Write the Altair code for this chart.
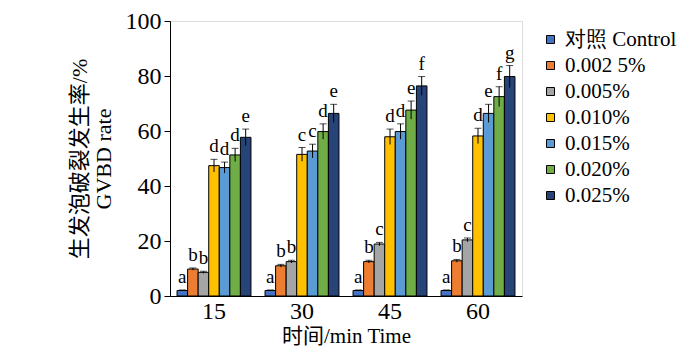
import altair as alt
import pandas as pd

times = ["15", "30", "45", "60"]
series = ["对照 Control", "0.002 5%", "0.005%", "0.010%", "0.015%", "0.020%", "0.025%"]
colors = ["#4472C4", "#ED7D31", "#A5A5A5", "#FFC000", "#5B9BD5", "#70AD47", "#264478"]

val_control = [2.0, 2.0, 2.0, 2.0]
val_0025 = [9.8, 11.0, 12.5, 12.8]
val_005 = [8.6, 12.5, 18.9, 20.4]
val_010 = [47.4, 51.5, 57.9, 58.2]
val_015 = [46.7, 52.7, 59.8, 66.4]
val_020 = [51.3, 59.8, 67.6, 72.5]
val_025 = [57.7, 66.4, 76.4, 79.8]

err_control = [0.2, 0.2, 0.2, 0.2]
err_0025 = [0.4, 0.5, 0.5, 0.5]
err_005 = [0.4, 0.5, 0.6, 0.7]
err_010 = [2.3, 2.5, 2.8, 2.8]
err_015 = [2.0, 2.5, 2.8, 3.3]
err_020 = [2.4, 2.8, 3.3, 3.6]
err_025 = [3.0, 3.3, 3.4, 4.0]

let_control = ["a", "a", "a", "a"]
let_0025 = ["b", "b", "b", "b"]
let_005 = ["b", "b", "c", "c"]
let_010 = ["d", "c", "d", "d"]
let_015 = ["d", "c", "d", "e"]
let_020 = ["d", "d", "e", "f"]
let_025 = ["e", "e", "f", "g"]

vals = [val_control, val_0025, val_005, val_010, val_015, val_020, val_025]
errs = [err_control, err_0025, err_005, err_010, err_015, err_020, err_025]
lets = [let_control, let_0025, let_005, let_010, let_015, let_020, let_025]

rows = []
for s, v, e, l in zip(series, vals, errs, lets):
    for i, t in enumerate(times):
        rows.append({"time": t, "series": s, "value": v[i],
                     "lo": v[i] - e[i], "hi": v[i] + e[i], "letter": l[i]})
df = pd.DataFrame(rows)

SERIF = "Liberation Serif, Noto Sans CJK SC"

x_enc = alt.X("time:N", sort=times,
              scale=alt.Scale(paddingInner=0.16, paddingOuter=0.08),
              axis=alt.Axis(title="时间/min Time", labelAngle=0, ticks=False,
                            labelFont=SERIF, labelFontSize=24, labelColor="black",
                            labelPadding=3, domainColor="black",
                            titleFont=SERIF, titleFontSize=21, titleFontWeight="normal",
                            titleColor="black", titlePadding=2))
xo_enc = alt.XOffset("series:N", sort=series, scale=alt.Scale(paddingInner=0, paddingOuter=0))

y_scale = alt.Scale(domain=[0, 100])
y_axis = alt.Axis(values=[0, 20, 40, 60, 80, 100], grid=False,
                  title=["生发泡破裂发生率/%", "GVBD rate"],
                  labelFont=SERIF, labelFontSize=24, labelColor="black", labelPadding=3,
                  tickColor="black", tickSize=6, domainColor="black",
                  titleFont=SERIF, titleFontSize=22, titleFontWeight="normal",
                  titleColor="black", titlePadding=10)

base = alt.Chart(df)

bars = base.mark_bar(stroke="black", strokeWidth=1).encode(
    x=x_enc, xOffset=xo_enc,
    y=alt.Y("value:Q", scale=y_scale, axis=y_axis),
    color=alt.Color("series:N", sort=series,
                    scale=alt.Scale(domain=series, range=colors),
                    legend=alt.Legend(title=None, orient="none", legendX=370, legendY=8,
                                      labelFont="Liberation Serif", labelFontSize=21,
                                      labelColor="black",
                                      symbolType="square", symbolSize=64,
                                      symbolStrokeColor="black", symbolStrokeWidth=1,
                                      symbolOpacity=1,
                                      rowPadding=4, labelOffset=4)),
)

rules = base.mark_rule(color="black", strokeWidth=1).encode(
    x=x_enc, xOffset=xo_enc,
    y=alt.Y("lo:Q", scale=y_scale), y2="hi:Q",
)

caps = base.mark_tick(color="black", thickness=1, size=7).encode(
    x=x_enc, xOffset=xo_enc,
    y=alt.Y("hi:Q", scale=y_scale),
)

texts = base.mark_text(font=SERIF, fontSize=19, baseline="bottom", dy=-3, color="black").encode(
    x=x_enc, xOffset=xo_enc,
    y=alt.Y("hi:Q", scale=y_scale),
    text="letter:N",
)

chart = alt.layer(bars, rules, caps, texts).properties(
    width=352, height=275,
    padding={"left": 162, "top": 13, "right": 160, "bottom": 53},
    autosize=alt.AutoSizeParams(type="none"),
).configure_view(stroke=None).configure(
    background="white", font="Liberation Serif"
).configure_legend(labelFont="Liberation Serif")

chart.save("out.html", embed_options={"renderer": "svg", "actions": False})
